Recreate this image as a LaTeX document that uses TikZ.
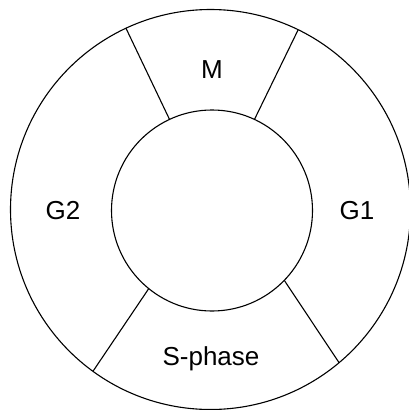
\documentclass[tikz,border=0pt]{standalone}
\usepackage{fontspec}
\setmainfont{Liberation Sans}
\begin{document}
\begin{tikzpicture}[x=1pt,y=-1pt,
  ring/.style={draw, circle, inner sep=0pt, outer sep=0pt, line width=1.1pt},
  divider/.style={line width=1.1pt},
  phase/.style={font=\fontsize{26}{30}\selectfont, inner sep=0pt}]
\useasboundingbox (0,0) rectangle (409,410);
\node[ring, minimum size=400pt] (outer) at (210.5,209.5) {};
\node[ring, minimum size=201pt] (inner) at (212,210.5) {};
\draw[divider] (outer.115.5) -- (inner.115.5);
\draw[divider] (outer.64.8) -- (inner.65);
\draw[divider] (inner.231) -- (outer.234);
\draw[divider] (inner.-44) -- (outer.-50.5);
\node[phase] (M) at (212,70) {M};
\node[phase] (G2) at (63,211) {G2};
\node[phase] (G1) at (357,211) {G1};
\node[phase] (S) at (211,359) {S-phase};
\end{tikzpicture}
\end{document}
